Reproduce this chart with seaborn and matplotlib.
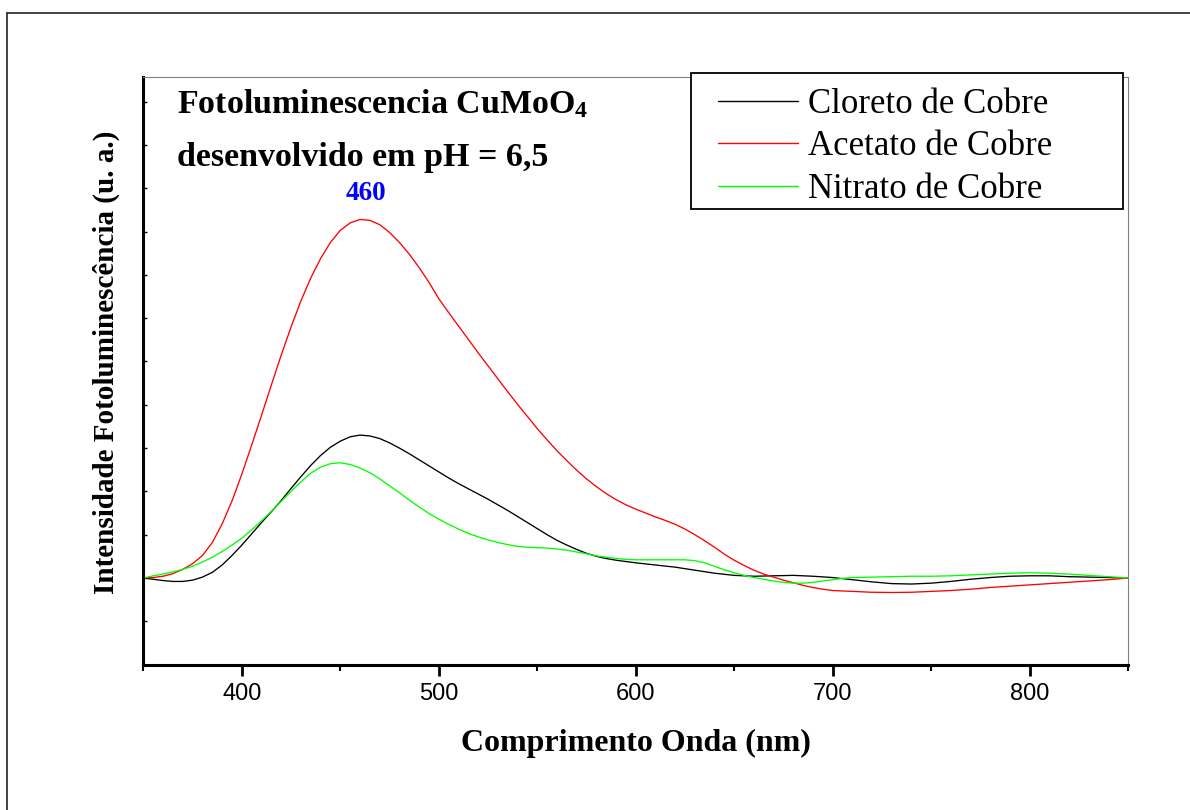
import numpy as np
import pandas as pd
import matplotlib
matplotlib.use("Agg")
import matplotlib.pyplot as plt
from matplotlib.lines import Line2D
from matplotlib.patches import Rectangle
import seaborn as sns

# ---- data ----
x_cloreto = [350, 355, 360, 365, 370, 375, 380, 385, 390, 395, 400, 405, 410, 415, 420, 425, 430, 435, 440,
             445, 450, 455, 460, 465, 470, 475, 480, 485, 490, 495, 500, 505, 510, 515, 520, 525, 530, 535,
             540, 545, 550, 555, 560, 565, 570, 575, 580, 585, 590, 595, 600, 610, 620, 630, 640, 650, 660,
             670, 680, 690, 700, 710, 720, 730, 740, 750, 760, 770, 780, 790, 800, 810, 820, 830, 840, 850]
y_cloreto = [0, -0.03, -0.06, -0.08, -0.08, -0.05, 0.02, 0.13, 0.30, 0.52, 0.76, 1.02, 1.28, 1.53, 1.79, 2.07,
             2.34, 2.60, 2.83, 3.02, 3.16, 3.26, 3.30, 3.28, 3.22, 3.12, 3.00, 2.87, 2.73, 2.59, 2.45, 2.31,
             2.18, 2.06, 1.94, 1.82, 1.69, 1.56, 1.42, 1.28, 1.14, 1.00, 0.87, 0.76, 0.66, 0.57, 0.50, 0.45,
             0.41, 0.38, 0.35, 0.30, 0.25, 0.18, 0.11, 0.06, 0.04, 0.05, 0.06, 0.04, 0.01, -0.04, -0.09, -0.13,
             -0.14, -0.12, -0.08, -0.03, 0.01, 0.04, 0.05, 0.05, 0.03, 0.02, 0.01, 0]

x_acetato = [350, 355, 360, 365, 370, 375, 380, 385, 390, 395, 400, 405, 410, 415, 420, 425, 430, 435, 440,
             445, 450, 455, 460, 465, 470, 475, 480, 485, 490, 495, 500, 505, 510, 515, 520, 525, 530, 535,
             540, 545, 550, 555, 560, 565, 570, 575, 580, 585, 590, 595, 600, 605, 610, 615, 620, 625, 630,
             635, 640, 645, 650, 655, 660, 665, 670, 675, 680, 685, 690, 695, 700, 710, 720, 730, 740, 750,
             760, 770, 780, 790, 800, 810, 820, 830, 840, 850]
y_acetato = [0, 0.01, 0.04, 0.10, 0.20, 0.33, 0.52, 0.82, 1.25, 1.78, 2.40, 3.07, 3.76, 4.46, 5.15, 5.80,
             6.40, 6.93, 7.38, 7.75, 8.03, 8.20, 8.28, 8.26, 8.16, 7.98, 7.75, 7.48, 7.17, 6.83, 6.45, 6.13,
             5.82, 5.51, 5.20, 4.90, 4.60, 4.30, 4.01, 3.73, 3.45, 3.19, 2.94, 2.71, 2.49, 2.29, 2.11, 1.95,
             1.81, 1.69, 1.59, 1.50, 1.41, 1.33, 1.24, 1.13, 1.00, 0.86, 0.71, 0.55, 0.41, 0.29, 0.18, 0.09,
             0.02, -0.05, -0.11, -0.17, -0.22, -0.26, -0.29, -0.31, -0.33, -0.335, -0.33, -0.31, -0.29, -0.26,
             -0.22, -0.19, -0.16, -0.13, -0.10, -0.07, -0.04, 0]

x_nitrato = [350, 355, 360, 365, 370, 375, 380, 385, 390, 395, 400, 405, 410, 415, 420, 425, 430, 435, 440,
             445, 450, 455, 460, 465, 470, 475, 480, 485, 490, 495, 500, 505, 510, 515, 520, 525, 530, 535,
             540, 545, 550, 555, 560, 565, 570, 575, 580, 585, 590, 595, 600, 610, 620, 625, 630, 635, 640,
             645, 650, 655, 660, 665, 670, 675, 680, 685, 690, 695, 700, 705, 710, 720, 730, 740, 750, 760,
             770, 780, 790, 800, 810, 820, 830, 840, 850]
y_nitrato = [0, 0.05, 0.09, 0.14, 0.20, 0.27, 0.37, 0.48, 0.61, 0.76, 0.92, 1.11, 1.32, 1.54, 1.77, 2.00,
             2.22, 2.42, 2.56, 2.64, 2.66, 2.62, 2.54, 2.43, 2.29, 2.13, 1.97, 1.80, 1.64, 1.49, 1.36, 1.24,
             1.13, 1.03, 0.95, 0.88, 0.82, 0.77, 0.73, 0.71, 0.70, 0.69, 0.67, 0.64, 0.60, 0.56, 0.51, 0.48,
             0.45, 0.43, 0.42, 0.42, 0.42, 0.42, 0.40, 0.35, 0.27, 0.19, 0.12, 0.06, 0.01, -0.03, -0.07, -0.10,
             -0.12, -0.12, -0.10, -0.07, -0.04, -0.01, 0.01, 0.02, 0.03, 0.04, 0.04, 0.05, 0.07, 0.09, 0.11,
             0.12, 0.11, 0.09, 0.06, 0.03, 0]

series_names = ["Cloreto de Cobre", "Acetato de Cobre", "Nitrato de Cobre"]
series_colors = ["#000000", "#ff0000", "#00ff00"]
x_major_ticks = [400, 500, 600, 700, 800]
x_minor_ticks = [350, 450, 550, 650, 750, 850]
y_ticks = list(range(-2, 12))
peak_label = "460"
peak_pos = (463.2, 8.73)

title_line1 = "Fotoluminescencia CuMoO$_4$"
title_line2 = "desenvolvido em pH = 6,5"
xlabel = "Comprimento Onda (nm)"
ylabel = "Intensidade Fotoluminescência (u. a.)"

df = pd.concat([
    pd.DataFrame({"x": x_cloreto, "y": y_cloreto, "serie": series_names[0]}),
    pd.DataFrame({"x": x_acetato, "y": y_acetato, "serie": series_names[1]}),
    pd.DataFrame({"x": x_nitrato, "y": y_nitrato, "serie": series_names[2]}),
], ignore_index=True)

# ---- style ----
sns.set_style("white")
plt.rcParams["font.family"] = ["Liberation Serif", "DejaVu Serif"]
plt.rcParams["mathtext.fontset"] = "custom"
plt.rcParams["mathtext.rm"] = "Liberation Serif:bold"
plt.rcParams["mathtext.bf"] = "Liberation Serif:bold"
plt.rcParams["mathtext.it"] = "Liberation Serif:bold"
for k in ["text.color", "axes.labelcolor", "xtick.color", "ytick.color"]:
    plt.rcParams[k] = "black"

W, H = 1190, 810
fig = plt.figure(figsize=(W / 100, H / 100), dpi=100)
fig.patch.set_facecolor("white")

ax_l, ax_r, ax_t, ax_b = 143.4, 1128.0, 77.0, 665.0
ax = fig.add_axes([ax_l / W, 1 - ax_b / H, (ax_r - ax_l) / W, (ax_b - ax_t) / H])

sns.lineplot(data=df, x="x", y="y", hue="serie", hue_order=series_names,
             palette=series_colors, estimator=None, sort=True, linewidth=0.95, ax=ax, legend=True)

ax.set_xlim(350, 850)
ax.set_ylim(-2.01, 11.57)

ax.set_xticks(x_major_ticks)
ax.set_xticks(x_minor_ticks, minor=True)
ax.set_xticklabels([str(v) for v in x_major_ticks], fontfamily="Liberation Sans", fontsize=17)
ax.tick_params(axis="x", which="major", direction="out", length=8, width=2, color="black", pad=5,
               bottom=True)
ax.tick_params(axis="x", which="minor", direction="out", length=4, width=1.5, color="black", bottom=True)
ax.set_yticks(y_ticks)
ax.tick_params(axis="y", which="major", direction="in", length=3, width=1, color="black",
               left=True, labelleft=False)

for s in ["left", "bottom"]:
    ax.spines[s].set_color("black")
    ax.spines[s].set_linewidth(2.2)
for s in ["top", "right"]:
    ax.spines[s].set_color("#808080")
    ax.spines[s].set_linewidth(0.8)

ax.set_xlabel(xlabel, fontsize=23, fontweight="bold", fontfamily="Liberation Serif")
ax.xaxis.set_label_coords(0.5, -0.1085)
ax.set_ylabel(ylabel, fontsize=21, fontweight="bold", fontfamily="Liberation Serif")
ax.yaxis.set_label_coords(-0.024, 0.515)

# peak annotation
ax.text(peak_pos[0], peak_pos[1], peak_label, color="#0000ff", fontsize=19.5, fontweight="bold",
        ha="center", va="baseline", fontfamily="Liberation Serif")

# titles
fig.text(177 / W, 1 - 113 / H, title_line1, fontsize=24.5, fontweight="bold", va="baseline", ha="left")
fig.text(177 / W, 1 - 166 / H, title_line2, fontsize=24.5, fontweight="bold", va="baseline", ha="left")

# legend box (drawn in the axes so the legend sits above it)
box = Rectangle((691 / W, 1 - 209 / H), (1122.7 - 691) / W, (209 - 72.7) / H,
                transform=fig.transFigure, fill=True, facecolor="white",
                edgecolor="black", linewidth=1.3, zorder=4, clip_on=False)
ax.add_patch(box)

handles, labels = ax.get_legend_handles_labels()
leg = ax.legend(handles, labels, loc="upper left", bbox_to_anchor=(718 / W, 1 - 88 / H),
                bbox_transform=fig.transFigure, frameon=False, borderpad=0, borderaxespad=0,
                fontsize=25, handlelength=2.3, handletextpad=0.29, labelspacing=0.27)
for t in leg.get_texts():
    t.set_fontfamily("Liberation Serif")
for ln in leg.get_lines():
    ln.set_linewidth(1.0)
leg.set_zorder(6)

# outer page frame (top and left edges visible)
fig.lines.append(Line2D([7 / W, 1.0], [1 - 13 / H, 1 - 13 / H], transform=fig.transFigure,
                        color="#222222", linewidth=1.2))
fig.lines.append(Line2D([7 / W, 7 / W], [1 - 13 / H, 0.0], transform=fig.transFigure,
                        color="#222222", linewidth=1.2))

fig.savefig("out.png", dpi=100, facecolor="white")
